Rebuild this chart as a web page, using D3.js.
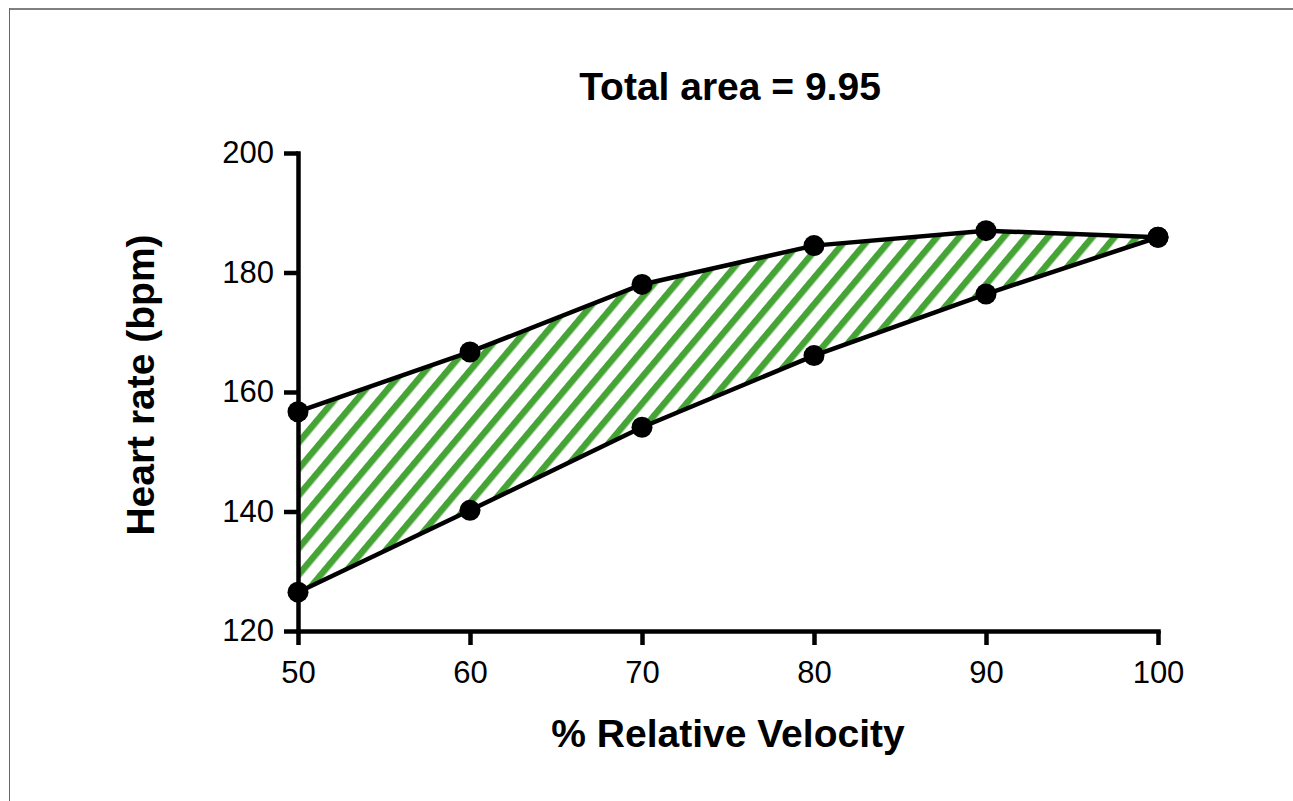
<!DOCTYPE html>
<html>
<head>
<meta charset="utf-8">
<script src="https://cdn.jsdelivr.net/npm/d3@7"></script>
<style>
  body { margin: 0; background: #fff; }
  svg { display: block; font-family: "Liberation Sans", Arial, Helvetica, sans-serif; }
</style>
</head>
<body>
<svg width="1293" height="801"></svg>
<script>
// values
var velocity = [50, 60, 70, 80, 90, 100];
var upperHR = [156.7, 166.7, 178.0, 184.5, 187.0, 185.9];
var lowerHR = [126.5, 140.2, 154.1, 166.1, 176.4, 185.9];
var xTicks = [50, 60, 70, 80, 90, 100];
var yTicks = [120, 140, 160, 180, 200];
var titleText = "Total area = 9.95";

var svg = d3.select("svg"),
    width = +svg.attr("width"),
    height = +svg.attr("height");

// frame (only top and left edges show)
svg.append("line")
    .attr("x1", 9).attr("x2", width).attr("y1", 9).attr("y2", 9)
    .attr("stroke", "#808080").attr("stroke-width", 2);
svg.append("line")
    .attr("x1", 9.5).attr("x2", 9.5).attr("y1", 8).attr("y2", height)
    .attr("stroke", "#666").attr("stroke-width", 1);

var x = d3.scaleLinear().domain([50, 100]).range([298, 1158]);
var y = d3.scaleLinear().domain([120, 200]).range([631, 153]);

// hatch
var defs = svg.append("defs");
var pat = defs.append("pattern")
    .attr("id", "hatch")
    .attr("patternUnits", "userSpaceOnUse")
    .attr("width", 17).attr("height", 17)
    .attr("patternTransform", "rotate(40)");
pat.append("rect")
    .attr("x", 0).attr("y", 0).attr("width", 6.5).attr("height", 17)
    .attr("fill", "#45a435");

var rows = velocity.map(function(v, i) {
  return { v: v, up: upperHR[i], lo: lowerHR[i] };
});

var area = d3.area()
    .x(function(d) { return x(d.v); })
    .y0(function(d) { return y(d.lo); })
    .y1(function(d) { return y(d.up); });

svg.append("path")
    .datum(rows)
    .attr("d", area)
    .attr("fill", "url(#hatch)");

// axes
var gx = svg.append("g")
    .attr("transform", "translate(0," + y(120) + ")")
    .call(d3.axisBottom(x).tickValues(xTicks).tickSize(14).tickSizeOuter(0).tickPadding(16));
var gy = svg.append("g")
    .attr("transform", "translate(" + x(50) + ",0)")
    .call(d3.axisLeft(y).tickValues(yTicks).tickSize(14).tickSizeOuter(0).tickPadding(10));

[gx, gy].forEach(function(g) {
  g.selectAll("path, line").attr("stroke", "#000").attr("stroke-width", 4.5);
  g.select(".domain").attr("stroke-linecap", "square");
  g.selectAll("text")
    .attr("fill", "#000")
    .style("font-size", "31px")
    .style("font-family", "Liberation Sans, Arial, sans-serif");
});

// lines
var lineUp = d3.line().x(function(d) { return x(d.v); }).y(function(d) { return y(d.up); });
var lineLo = d3.line().x(function(d) { return x(d.v); }).y(function(d) { return y(d.lo); });

svg.append("path").datum(rows).attr("d", lineUp)
    .attr("fill", "none").attr("stroke", "#000").attr("stroke-width", 4.5);
svg.append("path").datum(rows).attr("d", lineLo)
    .attr("fill", "none").attr("stroke", "#000").attr("stroke-width", 4.5);

// dots
svg.append("g").selectAll("circle")
  .data(rows.map(function(d) { return [d.v, d.up]; })
    .concat(rows.map(function(d) { return [d.v, d.lo]; })))
  .enter().append("circle")
    .attr("cx", function(d) { return x(d[0]); })
    .attr("cy", function(d) { return y(d[1]); })
    .attr("r", 10.5)
    .attr("fill", "#000");

// titles
svg.append("text")
    .attr("x", 730).attr("y", 100)
    .attr("text-anchor", "middle")
    .attr("font-weight", "bold")
    .style("font-size", "39px")
    .text(titleText);

svg.append("text")
    .attr("x", 728).attr("y", 747)
    .attr("text-anchor", "middle")
    .attr("font-weight", "bold")
    .style("font-size", "39px")
    .text("% Relative Velocity");

svg.append("text")
    .attr("transform", "translate(154,385) rotate(-90)")
    .attr("text-anchor", "middle")
    .attr("font-weight", "bold")
    .style("font-size", "39px")
    .text("Heart rate (bpm)");
</script>
</body>
</html>
